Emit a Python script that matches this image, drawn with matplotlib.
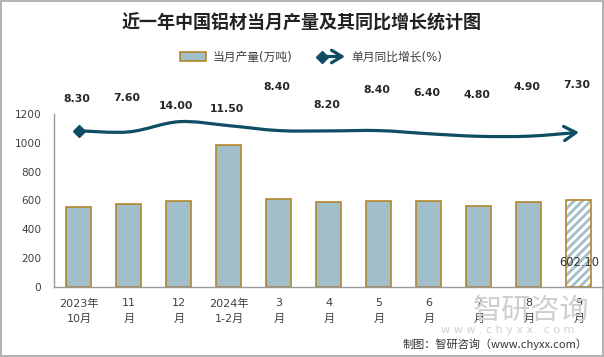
import matplotlib
matplotlib.use("Agg")
import matplotlib.pyplot as plt
from matplotlib.patches import Patch, FancyArrowPatch, ArrowStyle, Rectangle
from matplotlib.lines import Line2D
from matplotlib.path import Path
from matplotlib.legend_handler import HandlerBase

plt.rcParams['font.family'] = ['DejaVu Sans', 'Noto Sans CJK SC']
plt.rcParams['hatch.linewidth'] = 2.0

# data
months = ["2023年\n10月", "11\n月", "12\n月", "2024年\n1-2月", "3\n月", "4\n月",
          "5\n月", "6\n月", "7\n月", "8\n月", "9\n月"]
output = [554, 572, 593, 981, 609, 586, 593, 593, 559, 586, 602.10]
growth = [8.30, 7.60, 14.00, 11.50, 8.40, 8.20, 8.40, 6.40, 4.80, 4.90, 7.30]

# heights (primary-axis units) where the growth labels sit, staggered as in the picture
label_y = [1302, 1311, 1253, 1233, 1385, 1262, 1364, 1343, 1330, 1387, 1401]

BAR_FILL = '#a0bfcb'
BAR_EDGE = '#b3862a'
LINE_COL = '#0e4d64'
TXT = '#404040'

fig = plt.figure(figsize=(6.04, 3.57), dpi=100)
ax = fig.add_axes([0.0894, 0.196, 0.9106, 0.4854])
x = list(range(len(months)))

# bars; the last (current) month is drawn hatched
ax.bar(x[:-1], output[:-1], width=0.5, color=BAR_FILL, edgecolor=BAR_EDGE, linewidth=1.2, zorder=2)
ax.bar(x[-1], output[-1], width=0.5, color='white', edgecolor=BAR_FILL, hatch='////', linewidth=0, zorder=2)
ax.bar(x[-1], output[-1], width=0.5, fill=False, edgecolor=BAR_EDGE, linewidth=1.2, zorder=3)
ax.text(x[-1], 168, f"{output[-1]:.2f}", ha='center', va='center', fontsize=8.3, color='#333333', zorder=4)

ax.set_xlim(-0.5, len(months) - 0.5)
ax.set_ylim(0, 1200)
ax.set_yticks(range(0, 1201, 200))
ax.set_xticks(x)
ax.set_xticklabels(months, linespacing=1.7)
ax.tick_params(axis='y', length=0, pad=9, labelsize=7.6, labelcolor=TXT)
ax.tick_params(axis='x', length=0, pad=8, labelsize=8, labelcolor=TXT)
for s in ('top', 'right'):
    ax.spines[s].set_visible(False)
for s in ('left', 'bottom'):
    ax.spines[s].set_color('#999999')
    ax.spines[s].set_linewidth(1.0)

# growth line on a hidden secondary axis, smoothed and ending in an arrow
ax2 = ax.twinx()
ax2.set_ylim(-90, 19)
ax2.axis('off')

pts = list(zip(x, growth))
verts = [pts[0]]
codes = [Path.MOVETO]
for i in range(len(pts) - 1):
    p0 = pts[max(i - 1, 0)]
    p1 = pts[i]
    p2 = pts[i + 1]
    p3 = pts[min(i + 2, len(pts) - 1)]
    c1 = (p1[0] + (p2[0] - p0[0]) / 6, p1[1] + (p2[1] - p0[1]) / 6)
    c2 = (p2[0] - (p3[0] - p1[0]) / 6, p2[1] - (p3[1] - p1[1]) / 6)
    verts += [c1, c2, p2]
    codes += [Path.CURVE4] * 3

arrow = FancyArrowPatch(path=Path(verts, codes),
                        arrowstyle=ArrowStyle('->', head_length=0.5, head_width=0.3),
                        mutation_scale=17, color=LINE_COL, lw=2.3,
                        shrinkA=0, shrinkB=0, transform=ax2.transData, zorder=5)
ax2.add_patch(arrow)
ax2.plot(x[0], growth[0], marker='D', markersize=6, color=LINE_COL, zorder=6)

for xi, g, ly in zip(x, growth, label_y):
    ax.text(xi - 0.05, ly, f"{g:.2f}", ha='center', va='center', fontsize=7.8,
            fontweight='bold', color='#262626', clip_on=False)


class ArrowHandler(HandlerBase):
    def create_artists(self, legend, orig_handle, xdescent, ydescent, width, height, fontsize, trans):
        y = height / 2 - ydescent
        a = FancyArrowPatch((-xdescent, y), (-xdescent + width, y),
                            arrowstyle=ArrowStyle('->', head_length=0.5, head_width=0.3),
                            mutation_scale=15, color=LINE_COL, lw=2.3,
                            shrinkA=0, shrinkB=0, transform=trans)
        d = Line2D([-xdescent + 2], [y], marker='D', markersize=6, color=LINE_COL, transform=trans)
        return [a, d]


bar_handle = Patch(facecolor=BAR_FILL, edgecolor=BAR_EDGE, linewidth=1.2)
line_handle = Line2D([], [], color=LINE_COL)
fig.legend([bar_handle, line_handle], ["当月产量(万吨)", "单月同比增长(%)"],
           handler_map={Line2D: ArrowHandler()}, ncol=2, frameon=False,
           loc='center', bbox_to_anchor=(0.515, 0.840), fontsize=8.5,
           handlelength=2.2, handleheight=0.75, handletextpad=0.5, columnspacing=2.3,
           labelcolor=TXT)

fig.text(0.5, 0.935, "近一年中国铝材当月产量及其同比增长统计图", ha='center', va='center',
         fontsize=13, fontweight='bold', family=['Noto Sans CJK SC'], color='#222222')

# watermark and source
fig.text(0.88, 0.13, "智研咨询", ha='center', va='center', fontsize=21,
         color='#cfcfcf', family=['Noto Sans CJK SC'], zorder=0)
fig.text(0.84, 0.075, "w w w . c h y x x . c o m", ha='center', va='center', fontsize=8,
         color='#d0d0d0', zorder=0)
fig.text(0.972, 0.035, "制图：智研咨询（www.chyxx.com）", ha='right', va='center',
         fontsize=8, color='#333333', family=['Noto Sans CJK SC', 'DejaVu Sans'])

fig.add_artist(Rectangle((0.001, 0.002), 0.997, 0.995, transform=fig.transFigure,
                         fill=False, edgecolor='#a6a6a6', linewidth=1.2))

fig.savefig("out.png", dpi=100)
